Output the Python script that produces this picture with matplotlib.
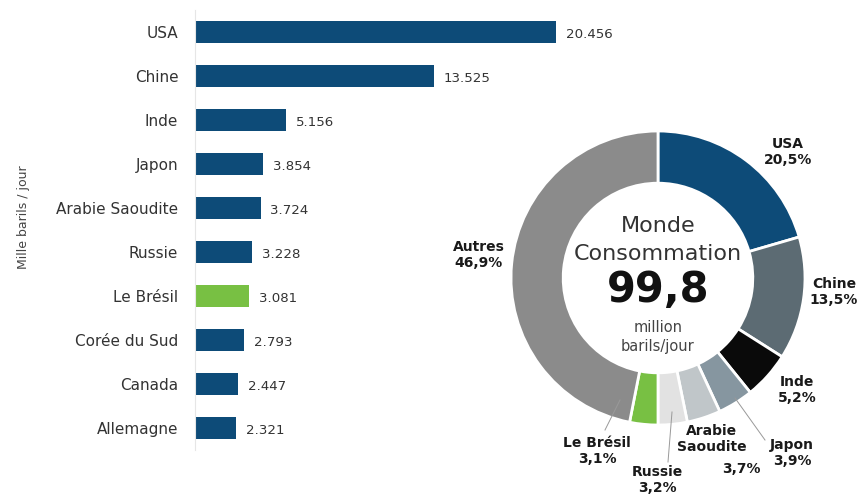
import matplotlib.pyplot as plt

plt.rcParams['font.family'] = ['DejaVu Sans']

# data
countries = ['USA', 'Chine', 'Inde', 'Japon', 'Arabie Saoudite', 'Russie',
             'Le Brésil', 'Corée du Sud', 'Canada', 'Allemagne']
consumption = [20.456, 13.525, 5.156, 3.854, 3.724, 3.228, 3.081, 2.793, 2.447, 2.321]
value_labels = ['20.456', '13.525', '5.156', '3.854', '3.724', '3.228',
                '3.081', '2.793', '2.447', '2.321']

share_names = ['USA', 'Chine', 'Inde', 'Japon', 'Arabie Saoudite', 'Russie', 'Le Brésil', 'Autres']
shares = [20.5, 13.5, 5.2, 3.9, 3.7, 3.2, 3.1, 46.9]

blue = '#0d4b78'
green = '#78c043'
bar_colors = [green if c == 'Le Brésil' else blue for c in countries]
pie_colors = [blue, '#5c6b73', '#0a0a0a', '#8696a0', '#c0c6c9', '#e2e2e2', green, '#8b8b8b']

W, H = 861, 499
fig = plt.figure(figsize=(W / 100, H / 100), dpi=100)

# ---- bar chart
ax = fig.add_axes([195 / W, (H - 450) / H, 400 / W, 440 / H])
ax.patch.set_alpha(0)
ypos = list(range(len(countries)))
ax.barh(ypos, consumption, height=0.5, color=bar_colors)
ax.set_xlim(0, 400 / 17.65)
ax.set_ylim(len(countries) - 0.5, -0.5)
ax.set_yticks(ypos)
ax.set_yticklabels(countries, fontsize=11, color='#333333')
ax.tick_params(axis='y', length=0, pad=12)
ax.set_xticks([])
for s in ['top', 'right', 'bottom']:
    ax.spines[s].set_visible(False)
ax.spines['left'].set_color('#e6e6e6')
for y, v, lab in zip(ypos, consumption, value_labels):
    ax.text(v + 0.55, y + 0.05, lab, va='center', ha='left', fontsize=9.6, color='#333333')

fig.text(24 / W, 1 - 217 / H, 'Mille barils / jour', rotation=90, ha='center', va='center',
         fontsize=9, color='#444444')

# ---- donut
cx, cy, r = 658, 278, 147
pax = fig.add_axes([(cx - r) / W, (H - cy - r) / H, 2 * r / W, 2 * r / H])
pax.pie(shares, colors=pie_colors, startangle=90, counterclock=False, radius=1,
        wedgeprops=dict(width=0.355, edgecolor='white', linewidth=2))
pax.set_xlim(-1, 1)
pax.set_ylim(-1, 1)
pax.set_aspect('equal')
pax.axis('off')


def px(x, y):
    return (x - cx) / r, (cy - y) / r


def lbl(x, y, s, **kw):
    pax.text(*px(x, y), s, ha='center', va='center', fontsize=10, fontweight='bold',
             color='#1a1a1a', linespacing=1.1, clip_on=False, **kw)


# centre text
pax.text(*px(658, 226), 'Monde', ha='center', va='center', fontsize=16, color='#333333')
pax.text(*px(658, 254), 'Consommation', ha='center', va='center', fontsize=16, color='#333333')
pax.text(*px(658, 290), '99,8', ha='center', va='center', fontsize=30, fontweight='bold',
         color='#111111')
pax.text(*px(658, 328), 'million', ha='center', va='center', fontsize=10.5, color='#444444')
pax.text(*px(658, 347), 'barils/jour', ha='center', va='center', fontsize=10.5, color='#444444')

# leader lines
for (x0, y0), (x1, y1) in [((605, 430), (620, 400)),
                           ((668, 462), (672, 412)),
                           ((765, 440), (735, 398))]:
    pax.plot(*zip(px(x0, y0), px(x1, y1)), color='#999999', lw=0.7, clip_on=False)

lbl(788, 152, 'USA\n20,5%')
lbl(834, 292, 'Chine\n13,5%')
lbl(797, 390, 'Inde\n5,2%')
lbl(792, 453, 'Japon\n3,9%')
lbl(712, 439, 'Arabie\nSaoudite')
lbl(741, 469, '3,7%')
lbl(657, 480, 'Russie\n3,2%')
lbl(597, 451, 'Le Brésil\n3,1%')
lbl(479, 255, 'Autres\n46,9%')

fig.savefig('out.png', dpi=100, facecolor='white')
